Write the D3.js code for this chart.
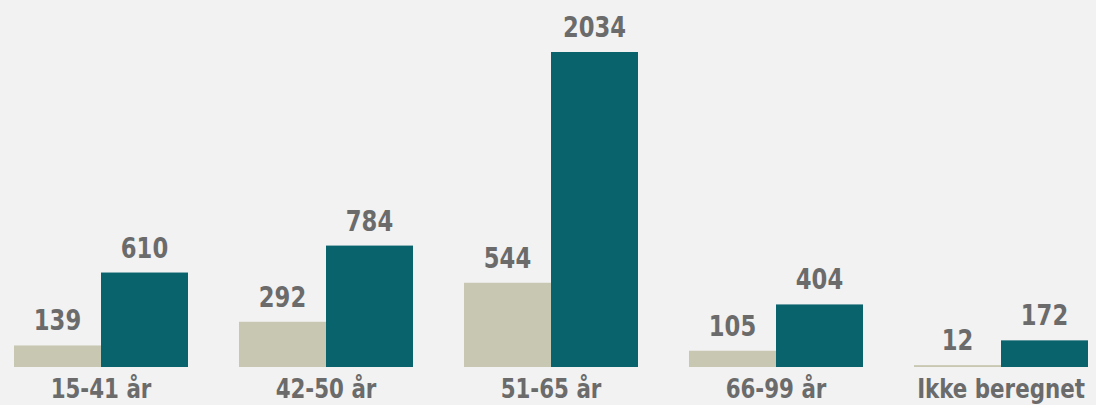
<!DOCTYPE html>
<html>
<head>
<meta charset="utf-8">
<script src="https://cdn.jsdelivr.net/npm/d3@7"></script>
<style>
  html, body { margin: 0; padding: 0; background: #f2f2f2; }
  text { font-family: "DejaVu Sans Condensed", "DejaVu Sans", sans-serif; font-weight: bold; fill: #6b6b6b; }
</style>
</head>
<body>
<div id="chart"></div>
<script>
// categories and the two series
var categories = ["15-41 år", "42-50 år", "51-65 år", "66-99 år", "Ikke beregnet"];
var seriesA = [139, 292, 544, 105, 12];
var seriesB = [610, 784, 2034, 404, 172];
var seriesNames = ["a", "b"];
var colors = ["#c8c7b1", "#08636d"];

var width = 1096, height = 405;
var baseline = 367;

var svg = d3.select("#chart")
    .append("svg")
    .attr("width", width)
    .attr("height", height);

// bands of width 174 each, step 225
var x = d3.scaleBand()
    .domain(categories)
    .range([14, 14 + 225 * 5 - 51])
    .paddingInner(51 / 225)
    .paddingOuter(0);

var xInner = d3.scaleBand()
    .domain(seriesNames)
    .range([0, x.bandwidth()]);

var y = d3.scaleLinear()
    .domain([0, 2034])
    .range([baseline, 52]);

var data = [];
categories.forEach((c, i) => {
    data.push({cat: c, s: "a", v: seriesA[i]});
    data.push({cat: c, s: "b", v: seriesB[i]});
});

var g = svg.append("g");

g.selectAll(".bar")
    .data(data)
    .enter()
    .append("rect")
    .attr("class", "bar")
    .attr("x", d => x(d.cat) + xInner(d.s))
    .attr("y", d => y(d.v))
    .attr("width", xInner.bandwidth())
    .attr("height", d => baseline - y(d.v))
    .attr("fill", d => colors[seriesNames.indexOf(d.s)]);

//value labels (narrowed a bit to look like the DIN style font)
g.selectAll(".val")
    .data(data)
    .enter()
    .append("text")
    .attr("class", "val")
    .attr("transform", d => {
        var cx = x(d.cat) + xInner(d.s) + xInner.bandwidth() / 2;
        return `translate(${cx},${y(d.v) - 15}) scale(0.9,1)`;
    })
    .attr("text-anchor", "middle")
    .style("font-size", "28px")
    .text(d => d.v);

//category labels
g.selectAll(".cat")
    .data(categories)
    .enter()
    .append("text")
    .attr("class", "cat")
    .attr("transform", d => `translate(${x(d) + x.bandwidth() / 2},398) scale(0.88,1)`)
    .attr("text-anchor", "middle")
    .style("font-size", "27px")
    .text(d => d);
</script>
</body>
</html>
